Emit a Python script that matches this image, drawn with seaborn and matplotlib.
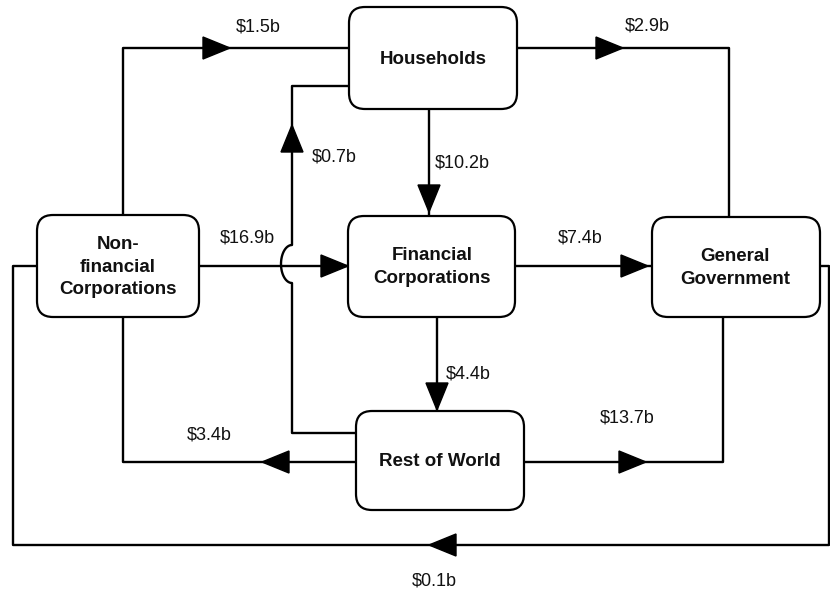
import numpy as np
import pandas as pd
import matplotlib
matplotlib.use("Agg")
import matplotlib.pyplot as plt
from matplotlib.patches import FancyBboxPatch
import seaborn as sns

# sectors and the flows between them ($ billion)
sectors = ["Households", "Non-\nfinancial\nCorporations", "Financial\nCorporations",
           "General\nGovernment", "Rest of World"]
flow_from = ["Non-\nfinancial\nCorporations", "Households", "Households", "Rest of World",
             "Non-\nfinancial\nCorporations", "Financial\nCorporations", "Financial\nCorporations",
             "Rest of World", "Rest of World", "General\nGovernment"]
flow_to = ["Households", "General\nGovernment", "Financial\nCorporations", "Households",
           "Financial\nCorporations", "General\nGovernment", "Rest of World",
           "Non-\nfinancial\nCorporations", "General\nGovernment", "Non-\nfinancial\nCorporations"]
flow_amount = [1.5, 2.9, 10.2, 0.7, 16.9, 7.4, 4.4, 3.4, 13.7, 0.1]

# layout in pixel space (x0, y0, x1, y1)
box_pos = {
    "Households": (349, 7, 517, 109),
    "Non-\nfinancial\nCorporations": (37, 215, 199, 317),
    "Financial\nCorporations": (348, 216, 515, 317),
    "General\nGovernment": (652, 217, 820, 317),
    "Rest of World": (356, 411, 524, 510),
}
text_pos = {
    "Households": (433, 60),
    "Non-\nfinancial\nCorporations": (118, 267),
    "Financial\nCorporations": (432, 267),
    "General\nGovernment": (735, 268),
    "Rest of World": (440, 462),
}
routes = [
    [(123, 215), (123, 48), (349, 48)],
    [(517, 48), (729, 48), (729, 217)],
    [(429, 109), (429, 216)],
    [(356, 433), (292, 433), (292, 86), (349, 86)],
    [(199, 266), (348, 266)],
    [(515, 266), (652, 266)],
    [(437, 317), (437, 411)],
    [(356, 462), (123, 462), (123, 317)],
    [(524, 462), (723, 462), (723, 317)],
    [(820, 266), (829, 266), (829, 545), (13, 545), (13, 266), (37, 266)],
]
arrow_tip = [((230, 48), "r"), ((623, 48), "r"), ((429, 212), "d"), ((292, 125), "u"),
             ((348, 266), "r"), ((648, 266), "r"), ((437, 410), "d"), ((262, 462), "l"),
             ((646, 462), "r"), ((429, 545), "l")]
label_pos = [((258, 27), "center"), ((647, 26), "center"), ((435, 163), "left"),
             ((312, 157), "left"), ((247, 238), "center"), ((580, 238), "center"),
             ((446, 374), "left"), ((209, 435), "center"), ((627, 418), "center"),
             ((434, 581), "center")]

sns.set_theme(style="white")
plt.rcParams["font.family"] = ["Liberation Sans", "DejaVu Sans"]

fig = plt.figure(figsize=(8.3, 5.98), dpi=100)
ax = fig.add_axes([0, 0, 1, 1])
ax.set_xlim(0, 830)
ax.set_ylim(598, 0)
ax.axis("off")

LW = 1.7
dirs = {"r": (1, 0), "l": (-1, 0), "u": (0, -1), "d": (0, 1)}


def with_bump(pts):
    # jump over the $16.9b line where the $0.7b line crosses it
    xs, ys = [], []
    for (x0, y0), (x1, y1) in zip(pts[:-1], pts[1:]):
        xs.append(x0)
        ys.append(y0)
        if x0 == x1 == 292:
            t = np.linspace(0, np.pi, 30)
            xs += list(292 - 11 * np.sin(t))
            ys += list(264 + 19 * np.cos(t))
    xs.append(pts[-1][0])
    ys.append(pts[-1][1])
    return xs, ys


for i, amount in enumerate(flow_amount):
    pts = routes[i]
    if i == 3:
        xs, ys = with_bump(pts)
    else:
        xs, ys = [p[0] for p in pts], [p[1] for p in pts]
    df = pd.DataFrame({"x": xs, "y": ys})
    sns.lineplot(data=df, x="x", y="y", sort=False, estimator=None, color="black",
                 lw=LW, ax=ax)
    (tx, ty), d = arrow_tip[i]
    dx, dy = dirs[d]
    L, W = 27, 11
    bx, by = tx - dx * L, ty - dy * L
    ax.fill([tx, bx - dy * W, bx + dy * W], [ty, by + dx * W, by - dx * W],
            color="black", zorder=4)
    (lx, ly), ha = label_pos[i]
    ax.text(lx, ly, f"${amount}b", ha=ha, va="center", fontsize=13, color="#111111")

for name in sectors:
    x0, y0, x1, y1 = box_pos[name]
    ax.add_patch(FancyBboxPatch((x0, y0), x1 - x0, y1 - y0,
                                boxstyle="round,pad=0,rounding_size=16",
                                fc="white", ec="black", lw=1.6, zorder=5))
    tx, ty = text_pos[name]
    ax.text(tx, ty, name, ha="center", va="center", fontsize=13.5, fontweight="bold",
            linespacing=1.45, color="#111111", zorder=6)

ax.set_xlabel("")
ax.set_ylabel("")
fig.savefig("out.png", dpi=100)
